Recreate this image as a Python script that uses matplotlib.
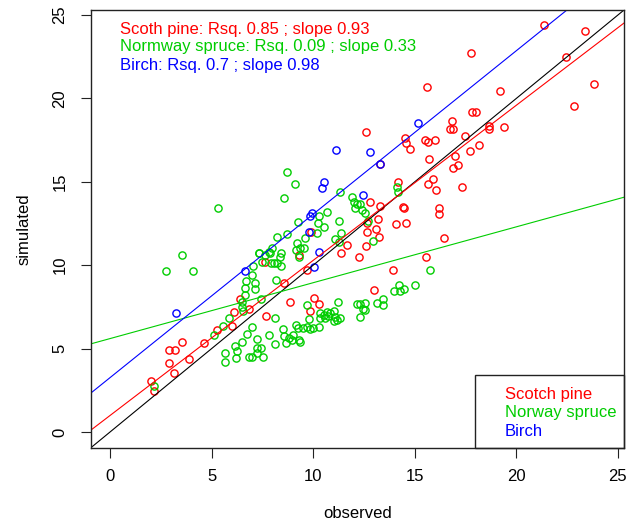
import numpy as np
import matplotlib
matplotlib.use("Agg")
import matplotlib.pyplot as plt
from matplotlib.patches import Rectangle

plt.rcParams['font.family'] = ['Liberation Sans', 'DejaVu Sans']

# Scots pine (red)
pine_obs = [21.34, 23.36, 17.78, 22.45, 23.84, 15.62, 19.20, 22.82, 17.83, 17.99,
            16.85, 16.71, 16.88, 18.67, 18.67, 19.41, 12.61, 14.50, 14.58, 15.49,
            15.63, 15.98, 14.75, 17.45, 18.14, 17.73, 16.96, 15.70, 17.12, 16.90,
            13.30, 15.91, 15.63, 16.04, 17.32, 14.16, 12.81, 13.28, 14.43, 14.48,
            16.17, 16.17, 13.17, 12.65, 13.10, 14.09, 14.55, 12.67, 13.22, 16.44,
            11.66, 12.60, 11.39, 12.27, 15.57, 13.94, 13.00, 9.30, 7.64, 9.90,
            9.69, 8.55, 8.84, 7.68, 10.05, 10.31, 9.85,
            6.40, 6.12, 6.86, 6.00, 5.26, 4.63, 3.91, 3.56, 2.92, 3.20, 2.89,
            3.17, 2.02, 2.17]
pine_sim = [24.40, 24.04, 22.74, 22.51, 20.86, 20.70, 20.46, 19.54, 19.17, 19.17,
            18.66, 18.19, 18.19, 18.36, 18.18, 18.27, 17.97, 17.61, 17.34, 17.51,
            17.37, 17.51, 16.98, 17.75, 17.21, 16.82, 16.53, 16.37, 16.00, 15.85,
            16.05, 15.17, 14.87, 14.48, 14.71, 15.01, 13.81, 13.57, 13.51, 13.41,
            13.43, 13.06, 12.76, 12.53, 12.15, 12.45, 12.51, 11.99, 11.67, 11.61,
            11.24, 11.15, 10.71, 10.50, 10.49, 9.71, 8.49, 10.61, 10.22, 11.99,
            9.74, 8.93, 7.81, 6.94, 8.05, 7.67, 7.28,
            7.96, 7.21, 7.37, 6.37, 6.12, 5.32, 4.39, 5.40, 4.93, 4.93, 4.12,
            3.52, 3.06, 2.46]

# Norway spruce (green)
spruce_obs = [5.33, 3.52, 2.76, 4.10, 6.70, 6.62, 6.62, 6.49, 6.49, 6.54,
              5.86, 5.55, 5.10, 6.73, 6.48, 6.13, 6.26, 5.68, 5.67, 6.21,
              2.17, 6.86, 7.01, 7.21, 7.22, 7.22, 7.42, 7.55, 6.98, 6.97,
              7.14, 7.14, 7.41, 7.80, 8.14, 8.13, 8.52, 8.55, 8.67, 8.17,
              8.41, 8.41, 8.08, 7.92, 7.35, 7.88, 8.80, 9.03, 9.31, 9.14,
              9.23, 8.95, 9.69, 9.77, 9.52, 9.69, 9.85, 10.01, 10.31, 10.34,
              10.34, 10.59, 10.75, 10.51, 10.70, 11.00, 11.05, 11.17, 11.30, 11.00,
              11.20, 12.14, 12.29, 12.53, 12.45, 12.56, 12.28, 13.14, 13.46, 13.45,
              13.96, 14.24, 14.46, 14.29, 14.99, 15.73, 9.36, 8.70, 9.11, 8.54,
              10.70, 10.30, 10.26, 10.51, 10.18, 9.23, 8.70, 8.24, 9.61, 9.56,
              9.20, 9.36, 9.16, 9.28, 7.80, 7.97, 7.64, 7.31, 8.37, 8.24,
              7.46, 7.06, 11.33, 11.92, 12.00, 12.07, 12.15, 12.32, 12.40, 12.53,
              11.26, 12.72, 14.12, 14.17, 11.39, 11.05, 11.25, 12.94, 10.84]
spruce_sim = [13.41, 10.61, 9.65, 9.65, 9.07, 8.65, 8.21, 7.81, 7.51, 7.27,
              6.83, 6.38, 5.79, 5.87, 5.40, 5.16, 4.86, 4.72, 4.18, 4.44,
              2.76, 4.51, 6.31, 5.59, 5.01, 4.75, 5.02, 4.50, 4.48, 9.41,
              8.91, 8.55, 8.00, 5.82, 6.83, 5.28, 6.16, 5.76, 5.35, 9.11,
              10.71, 9.95, 10.15, 10.15, 10.75, 10.75, 5.62, 5.79, 5.49, 6.41,
              6.26, 5.52, 7.61, 6.76, 6.23, 6.29, 6.16, 6.22, 6.31, 7.15,
              6.82, 6.82, 6.95, 7.01, 7.21, 7.25, 6.91, 6.74, 6.82, 6.65,
              7.81, 7.70, 7.67, 7.76, 7.40, 7.31, 6.89, 7.76, 7.96, 7.61,
              8.44, 8.81, 8.57, 8.48, 8.81, 9.71, 5.41, 15.61, 14.87, 14.01,
              13.21, 12.95, 12.53, 12.27, 11.96, 12.61, 11.85, 11.67, 11.63, 11.03,
              11.31, 11.01, 10.91, 10.52, 10.81, 11.01, 10.61, 10.71, 10.47, 10.15,
              10.21, 9.95, 14.41, 14.11, 13.81, 13.40, 13.67, 13.67, 13.31, 13.11,
              12.67, 12.67, 14.71, 14.41, 11.91, 11.60, 11.41, 11.48, 7.12]

# Birch (blue)
birch_obs = [3.24, 6.65, 9.77, 9.94, 9.85, 10.31, 10.05, 10.51, 10.43, 11.13,
             12.81, 13.30, 12.46, 15.14]
birch_sim = [7.15, 9.65, 12.01, 13.10, 12.95, 10.79, 9.87, 15.01, 14.65, 16.91,
             16.76, 16.05, 14.18, 18.51]

# regression lines (intercept, slope)
species = ["Scotch pine", "Norway spruce", "Birch"]
colors = ["#FF0000", "#00CD00", "#0000FF"]
intercepts = [0.99, 5.60, 3.26]
slopes = [0.93, 0.335, 0.98]
stats_text = ["Scoth pine: Rsq. 0.85 ; slope 0.93",
              "Normway spruce: Rsq. 0.09 ; slope 0.33",
              "Birch: Rsq. 0.7 ; slope 0.98"]

fig = plt.figure(figsize=(6.27, 5.22), dpi=100)
ax = fig.add_axes([0.1451, 0.1418, 0.8501, 0.839])

data = [(pine_obs, pine_sim), (spruce_obs, spruce_sim), (birch_obs, birch_sim)]
for (xo, ys), c in zip(data, colors):
    ax.plot(xo, ys, linestyle="none", marker="o", markersize=5.2,
            markerfacecolor="none", markeredgecolor=c, markeredgewidth=1.0)

ax.axline((0, 0), slope=1, color="black", lw=0.8)
for b, m, c in zip(intercepts, slopes, colors):
    ax.axline((0, b), slope=m, color=c, lw=0.8)

ax.set_xlim(-0.94, 25.3)
ax.set_ylim(-0.96, 25.3)
ax.set_xticks([0, 5, 10, 15, 20, 25])
ax.set_yticks([0, 5, 10, 15, 20, 25])
ax.tick_params(direction="out", length=7, width=0.8, labelsize=12, color="#222222")
ax.tick_params(axis="x", pad=8)
ax.tick_params(axis="y", pad=10)
for lab in ax.get_yticklabels():
    lab.set_rotation(90)
    lab.set_va("center")
for s in ax.spines.values():
    s.set_linewidth(1.0)
    s.set_color("#222222")

ax.set_xlabel("observed", fontsize=12, labelpad=16)
ax.set_ylabel("simulated", fontsize=12, labelpad=15)

ytop = [0.9566, 0.916, 0.873]
for t, c, yy in zip(stats_text, colors, ytop):
    ax.text(0.0544, yy, t, color=c, fontsize=12, transform=ax.transAxes,
            ha="left", va="center")

ax.add_patch(Rectangle((0.7205, 0.0), 0.2795, 0.1667, transform=ax.transAxes,
                       fill=False, edgecolor="#222222", lw=1.0, clip_on=False))
yleg = [0.121, 0.0799, 0.0365]
for t, c, yy in zip(species, colors, yleg):
    ax.text(0.7767, yy, t, color=c, fontsize=12, transform=ax.transAxes,
            ha="left", va="center")

fig.savefig("out.png", dpi=100)
